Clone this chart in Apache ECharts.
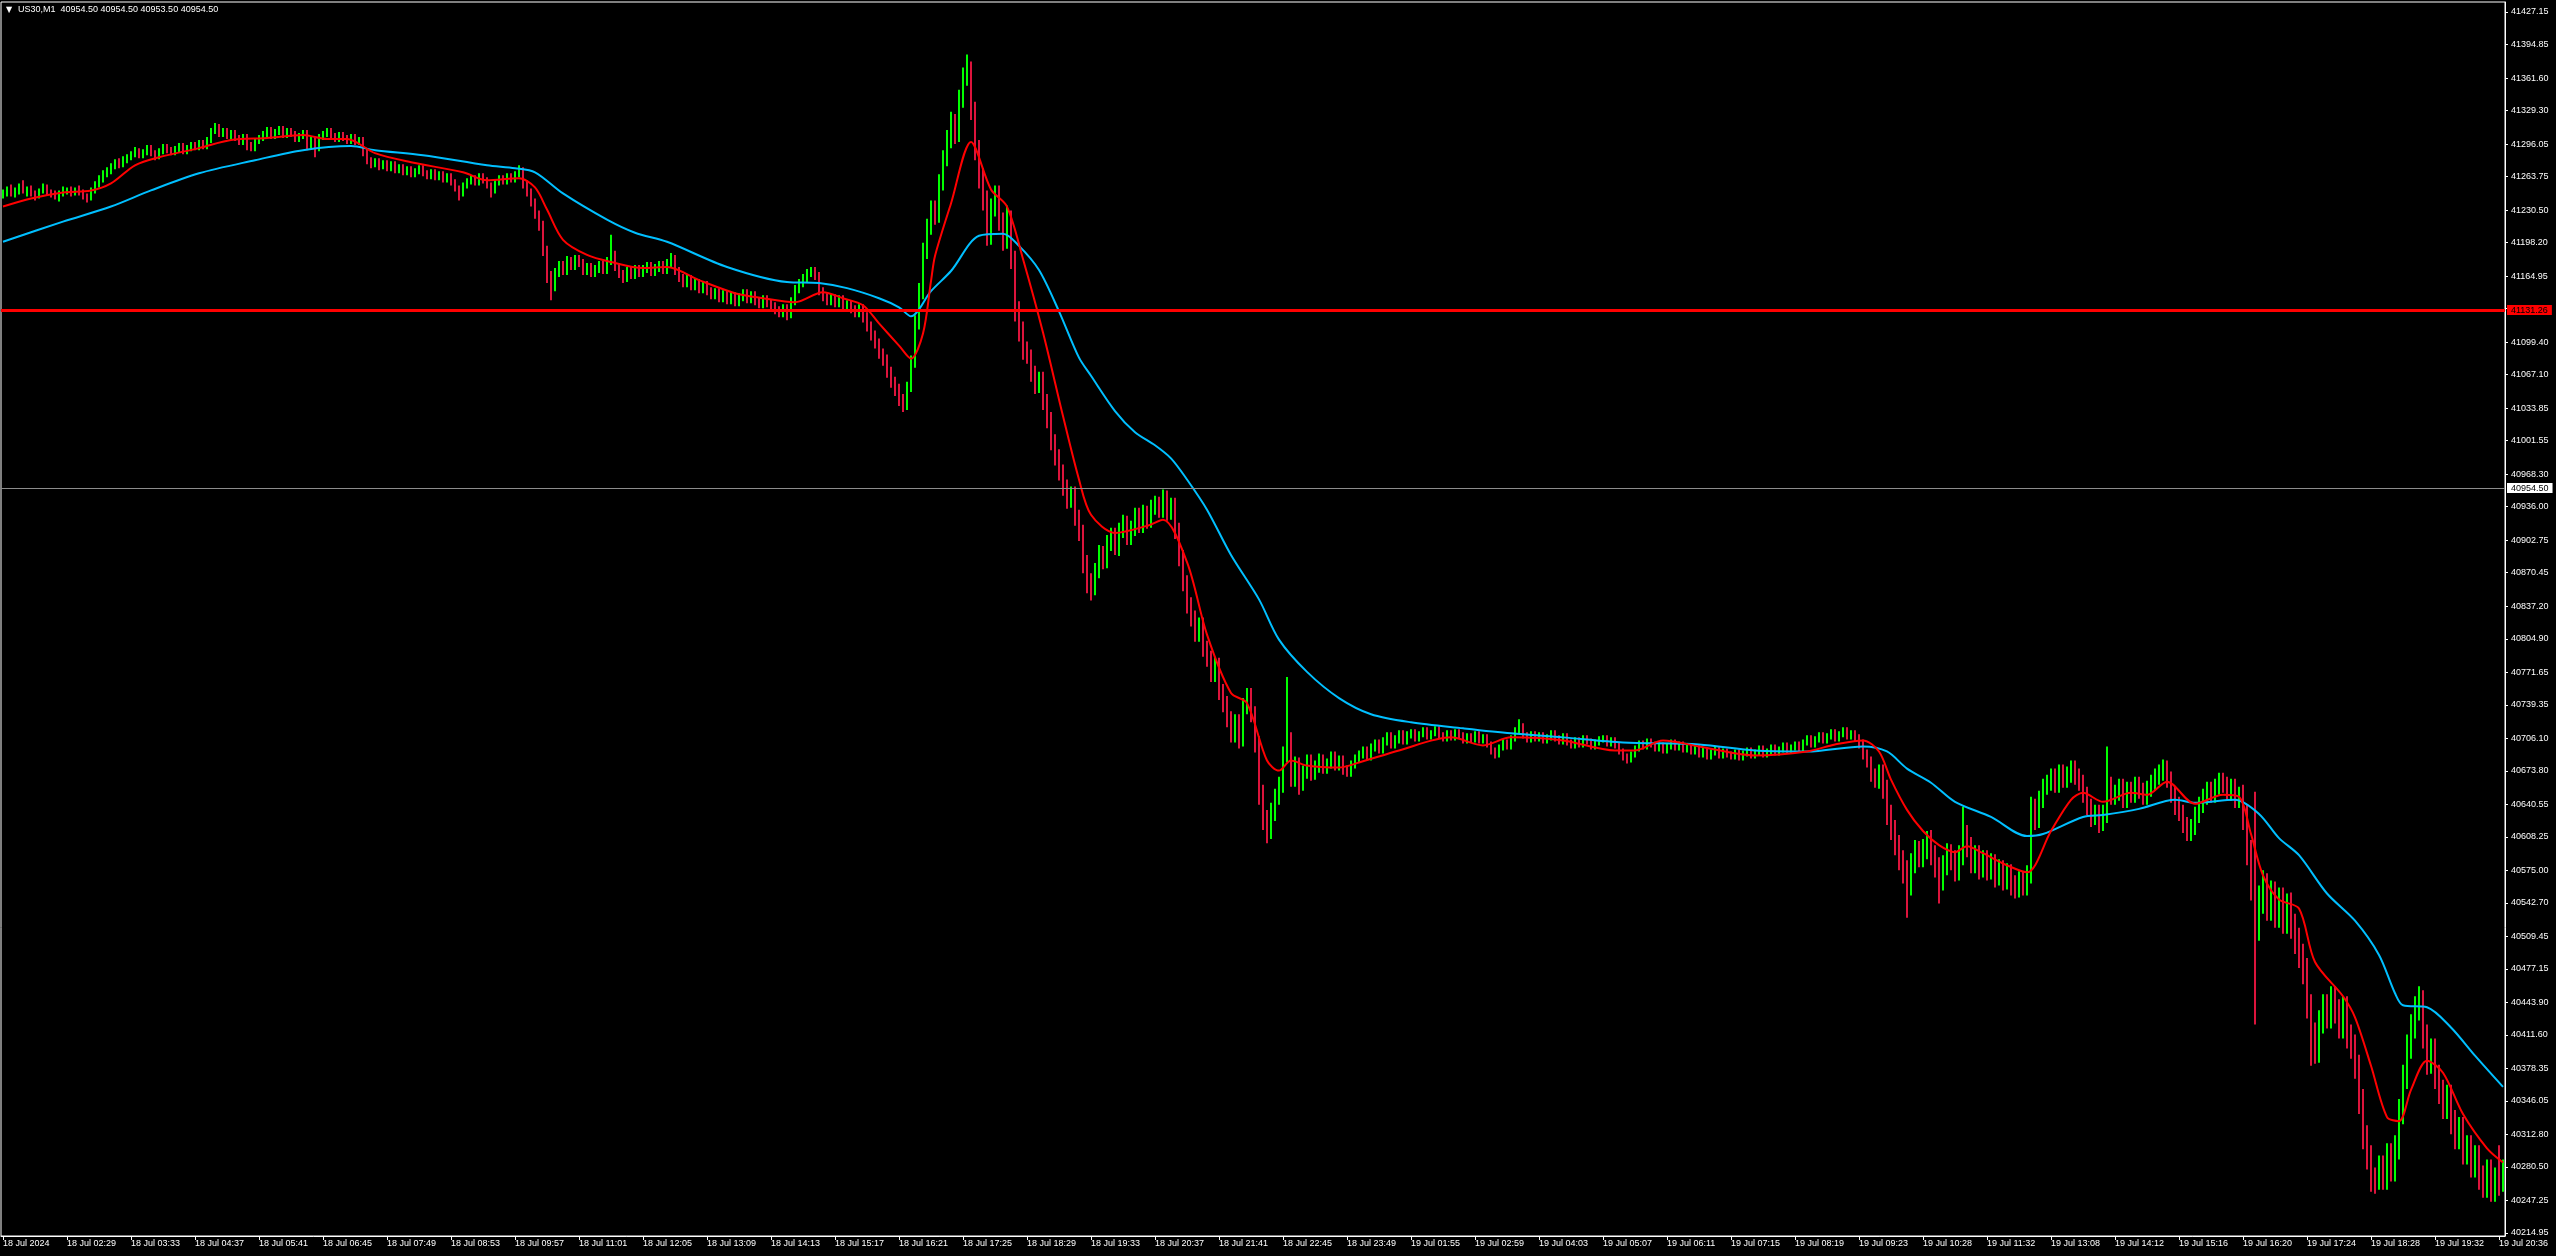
<!DOCTYPE html>
<html>
<head>
<meta charset="utf-8">
<script src="https://cdn.jsdelivr.net/npm/echarts/dist/echarts.min.js"></script>
<style>
html,body{margin:0;padding:0;background:#000;}
#chart{width:2556px;height:1256px;}
</style>
</head>
<body>
<div id="chart"></div>
<script>
// ---- data: 4-minute candles ----
const open = [
41245,41248,41252,41246,41250,41255,41249,41251,41247,41244,41250,41253,41249,41246,41243,41247,
41249,41250,41247,41251,41248,41244,41243,41250,41256,41262,41266,41270,41274,41278,41276,41280,
41283,41286,41290,41285,41288,41292,41287,41284,41289,41293,41290,41288,41291,41294,41289,41292,
41295,41293,41297,41294,41300,41309,41313,41306,41309,41304,41307,41302,41298,41303,41295,41292,
41299,41302,41306,41310,41304,41308,41311,41305,41309,41306,41301,41304,41307,41296,41300,41292,
41303,41306,41309,41304,41301,41305,41302,41299,41303,41298,41300,41288,41280,41276,41279,41274,
41277,41272,41276,41270,41273,41268,41271,41266,41269,41272,41267,41264,41268,41263,41266,41261,
41264,41258,41252,41247,41255,41259,41262,41258,41264,41260,41255,41250,41258,41262,41259,41264,
41261,41266,41270,41256,41248,41238,41226,41215,41190,41165,41155,41168,41176,41170,41180,41175,
41182,41178,41170,41174,41168,41172,41176,41171,41180,41186,41174,41167,41163,41170,41166,41172,
41168,41172,41175,41169,41173,41176,41171,41178,41182,41170,41163,41158,41162,41155,41158,41152,
41156,41150,41146,41149,41143,41147,41141,41145,41139,41144,41148,41142,41146,41140,41137,41142,
41138,41135,41131,41128,41133,41127,41140,41152,41158,41163,41168,41170,41165,41150,41144,41140,
41143,41138,41142,41134,41137,41132,41128,41133,41124,41115,41106,41098,41088,41082,41070,41060,
41052,41042,41036,41055,41080,41120,41150,41190,41215,41232,41225,41258,41282,41300,41318,41308,
41340,41362,41370,41328,41290,41262,41240,41205,41232,41245,41218,41200,41222,41180,41130,41110,
41092,41085,41068,41056,41062,41040,41022,41000,40985,40970,40955,40942,40948,40925,40910,40880,
40862,40855,40872,40890,40882,40900,40908,40895,40912,40920,40905,40915,40928,40918,40930,40922,
40935,40940,40932,40945,40930,40938,40912,40885,40860,40838,40825,40810,40818,40795,40785,40770,
40778,40752,40740,40725,40710,40722,40705,40738,40748,40730,40700,40650,40625,40615,40632,40648,
40660,40690,40705,40665,40680,40660,40672,40684,40670,40678,40685,40676,40681,40688,40679,40684,
40675,40672,40680,40686,40690,40694,40688,40697,40701,40695,40703,40708,40700,40705,40710,40704,
40709,40712,40706,40710,40714,40708,40711,40715,40709,40706,40711,40707,40712,40709,40704,40708,
40705,40710,40704,40707,40700,40694,40690,40697,40702,40698,40706,40714,40718,40709,40705,40710,
40706,40709,40704,40707,40711,40706,40703,40708,40702,40699,40704,40700,40706,40703,40698,40702,
40705,40706,40701,40704,40699,40693,40688,40685,40690,40696,40701,40698,40703,40700,40696,40699,
40694,40698,40702,40697,40700,40695,40698,40693,40697,40690,40694,40688,40692,40695,40689,40693,
40690,40688,40692,40687,40691,40694,40689,40692,40696,40690,40693,40697,40692,40695,40699,40694,
40697,40700,40696,40702,40706,40700,40705,40709,40704,40708,40712,40706,40710,40714,40708,40711,
40706,40700,40690,40682,40670,40664,40672,40655,40630,40615,40600,40585,40575,40560,40582,40595,
40588,40596,40605,40590,40578,40565,40580,40592,40585,40575,40590,40610,40598,40582,40590,40578,
40585,40575,40582,40568,40576,40565,40572,40560,40555,40565,40558,40570,40638,40625,40645,40658,
40662,40668,40660,40672,40665,40670,40676,40668,40662,40650,40638,40628,40632,40622,40630,40660,
40648,40652,40658,40645,40655,40650,40660,40654,40648,40656,40662,40668,40672,40678,40665,40650,
40640,40632,40620,40612,40618,40630,40640,40648,40655,40650,40658,40664,40660,40652,40658,40645,
40650,40625,40590,40560,40520,40545,40560,40538,40552,40530,40545,40525,40540,40520,40505,40490,
40475,40440,40410,40395,40425,40440,40430,40448,40435,40420,40438,40410,40400,40380,40345,40310,
40290,40268,40262,40280,40270,40292,40278,40300,40335,40370,40400,40420,40438,40445,40410,40385,
40395,40370,40355,40340,40350,40325,40310,40318,40295,40300,40282,40290,40270,40262,40275,40258,
40268,40262
];
const high = [
41251,41254,41256,41253,41257,41260,41254,41255,41250,41252,41257,41256,41251,41250,41250,41254,
41253,41254,41253,41255,41251,41247,41253,41259,41265,41270,41273,41277,41281,41282,41284,41286,
41289,41293,41292,41291,41295,41295,41290,41292,41296,41296,41293,41294,41297,41297,41295,41298,
41298,41300,41300,41303,41312,41317,41316,41312,41312,41310,41310,41305,41306,41306,41298,41302,
41305,41309,41313,41313,41311,41314,41314,41312,41312,41309,41307,41310,41310,41303,41303,41306,
41309,41312,41312,41307,41308,41308,41305,41306,41306,41303,41303,41291,41283,41282,41282,41280,
41280,41279,41279,41276,41276,41274,41274,41272,41275,41275,41270,41271,41271,41269,41269,41267,
41267,41261,41255,41258,41262,41265,41265,41267,41267,41263,41258,41261,41265,41265,41267,41267,
41269,41275,41273,41260,41252,41242,41230,41220,41195,41170,41173,41180,41180,41185,41184,41186,
41186,41182,41178,41178,41176,41180,41180,41184,41206,41190,41178,41171,41174,41174,41176,41176,
41176,41179,41179,41177,41180,41180,41182,41188,41186,41174,41167,41166,41166,41162,41162,41160,
41160,41154,41153,41153,41151,41151,41149,41149,41148,41152,41152,41150,41150,41144,41146,41146,
41142,41139,41135,41137,41137,41144,41156,41162,41167,41172,41174,41174,41169,41154,41148,41147,
41147,41146,41146,41141,41141,41136,41137,41137,41129,41120,41111,41103,41093,41087,41075,41065,
41058,41048,41060,41086,41126,41158,41198,41222,41240,41240,41266,41290,41310,41328,41326,41350,
41372,41385,41378,41338,41300,41272,41250,41242,41255,41255,41228,41235,41230,41190,41140,41120,
41100,41092,41076,41070,41070,41048,41030,41008,40993,40978,40963,40956,40956,40933,40918,40888,
40870,40880,40898,40897,40908,40915,40915,40920,40928,40927,40922,40935,40935,40938,40937,40943,
40947,40946,40953,40952,40945,40945,40920,40893,40868,40846,40833,40826,40826,40803,40793,40786,
40786,40760,40748,40733,40730,40730,40746,40756,40756,40738,40708,40660,40635,40642,40656,40668,
40698,40767,40712,40688,40687,40679,40690,40690,40684,40691,40690,40686,40693,40693,40689,40689,
40679,40684,40690,40694,40698,40698,40701,40705,40705,40707,40712,40712,40709,40714,40714,40713,
40715,40715,40713,40717,40717,40714,40718,40718,40712,40714,40714,40715,40715,40712,40711,40711,
40713,40713,40710,40710,40703,40697,40700,40705,40705,40709,40717,40725,40721,40712,40713,40713,
40712,40712,40710,40714,40714,40709,40711,40711,40705,40707,40707,40709,40709,40706,40705,40708,
40709,40709,40707,40707,40702,40696,40691,40693,40699,40704,40704,40706,40706,40703,40702,40702,
40701,40705,40705,40703,40703,40701,40701,40700,40700,40697,40697,40695,40698,40698,40696,40696,
40693,40695,40695,40694,40697,40697,40695,40699,40699,40696,40700,40700,40698,40702,40702,40700,
40703,40703,40705,40709,40709,40708,40712,40712,40711,40715,40715,40713,40717,40717,40714,40714,
40710,40705,40695,40688,40676,40680,40680,40665,40640,40625,40610,40595,40585,40592,40605,40604,
40606,40614,40615,40600,40588,40590,40602,40601,40595,40600,40638,40620,40608,40600,40600,40595,
40595,40592,40591,40586,40585,40582,40581,40570,40574,40574,40580,40648,40646,40654,40666,40670,
40676,40676,40680,40680,40678,40684,40684,40676,40670,40658,40646,40640,40640,40640,40698,40668,
40660,40666,40666,40663,40663,40668,40668,40662,40664,40670,40676,40680,40685,40684,40673,40658,
40648,40640,40628,40626,40638,40648,40656,40663,40663,40666,40672,40672,40668,40666,40666,40658,
40660,40640,40605,40653,40560,40575,40572,40565,40564,40558,40558,40552,40553,40532,40518,40502,
40488,40452,40424,40436,40452,40452,40460,40460,40447,40450,40450,40422,40412,40392,40358,40322,
40302,40280,40292,40292,40304,40304,40312,40348,40382,40412,40432,40450,40460,40456,40422,40408,
40408,40382,40367,40362,40362,40337,40330,40330,40312,40312,40302,40302,40282,40288,40288,40280,
40302,40288
];
const low = [
41242,41244,41244,41243,41246,41247,41244,41244,41240,41242,41247,41245,41243,41241,41239,41244,
41246,41244,41245,41245,41241,41238,41240,41247,41253,41258,41263,41266,41271,41272,41273,41277,
41280,41283,41282,41282,41285,41284,41280,41281,41286,41287,41285,41285,41288,41286,41286,41289,
41290,41290,41291,41291,41297,41306,41303,41303,41301,41301,41299,41295,41295,41290,41289,41289,
41296,41299,41303,41301,41301,41305,41302,41302,41303,41298,41298,41301,41290,41292,41283,41289,
41300,41303,41301,41298,41298,41299,41296,41296,41295,41295,41284,41276,41272,41273,41270,41271,
41269,41269,41267,41267,41265,41265,41263,41263,41266,41264,41261,41261,41260,41260,41258,41258,
41255,41249,41240,41244,41252,41256,41255,41255,41257,41252,41243,41247,41255,41256,41256,41258,
41258,41263,41252,41244,41234,41222,41210,41185,41158,41141,41150,41164,41166,41166,41171,41171,
41174,41166,41166,41164,41164,41168,41167,41167,41176,41170,41163,41158,41159,41162,41162,41164,
41164,41168,41165,41165,41169,41167,41167,41174,41166,41159,41154,41154,41151,41151,41148,41148,
41146,41142,41142,41139,41139,41137,41137,41135,41135,41140,41138,41138,41136,41133,41133,41134,
41131,41127,41124,41124,41121,41123,41136,41148,41154,41159,41164,41161,41146,41140,41136,41136,
41134,41134,41130,41130,41128,41124,41124,41119,41110,41101,41093,41083,41076,41064,41054,41046,
41036,41030,41032,41050,41074,41112,41142,41182,41206,41216,41218,41250,41274,41292,41296,41298,
41332,41354,41320,41280,41252,41230,41195,41196,41224,41210,41190,41192,41172,41120,41100,41082,
41078,41060,41048,41049,41032,41014,40992,40977,40962,40947,40934,40935,40917,40902,40870,40850,
40843,40848,40865,40874,40875,40892,40888,40887,40905,40898,40898,40907,40910,40910,40914,40915,
40928,40925,40925,40922,40923,40904,40877,40852,40830,40817,40802,40802,40787,40777,40762,40762,
40744,40732,40717,40702,40702,40696,40698,40730,40722,40692,40640,40615,40602,40606,40624,40640,
40652,40682,40658,40658,40650,40654,40666,40664,40665,40672,40671,40671,40676,40674,40674,40670,
40668,40668,40676,40682,40686,40684,40684,40693,40691,40691,40699,40696,40696,40701,40700,40700,
40706,40703,40703,40707,40705,40705,40708,40706,40703,40703,40704,40704,40706,40701,40701,40702,
40702,40701,40701,40697,40690,40686,40687,40694,40695,40695,40703,40711,40706,40702,40702,40703,
40703,40701,40701,40704,40703,40700,40700,40699,40696,40696,40697,40697,40700,40695,40695,40699,
40702,40698,40698,40696,40690,40684,40681,40682,40687,40693,40695,40695,40697,40693,40693,40691,
40691,40695,40694,40694,40692,40692,40690,40690,40687,40687,40685,40685,40689,40686,40686,40687,
40685,40685,40684,40684,40688,40686,40686,40689,40687,40687,40690,40689,40689,40692,40691,40691,
40694,40693,40693,40699,40697,40697,40702,40701,40701,40705,40703,40703,40707,40705,40705,40703,
40696,40685,40677,40663,40657,40656,40646,40620,40605,40590,40575,40562,40528,40550,40572,40578,
40578,40586,40580,40568,40542,40555,40570,40575,40564,40565,40580,40588,40572,40572,40566,40568,
40565,40566,40558,40560,40555,40556,40550,40547,40548,40550,40550,40562,40615,40617,40637,40650,
40654,40652,40652,40657,40657,40662,40660,40654,40642,40630,40618,40620,40612,40614,40622,40640,
40640,40644,40637,40637,40642,40642,40646,40640,40640,40648,40654,40660,40664,40657,40642,40630,
40624,40612,40604,40604,40610,40622,40632,40640,40642,40642,40650,40652,40644,40644,40637,40637,
40615,40580,40545,40422,40505,40532,40525,40525,40518,40518,40512,40512,40507,40492,40478,40462,
40428,40381,40383,40384,40413,40418,40418,40423,40408,40408,40398,40388,40368,40333,40298,40278,
40256,40254,40258,40258,40258,40266,40266,40288,40323,40358,40388,40408,40426,40398,40372,40373,
40358,40343,40328,40328,40313,40298,40298,40283,40283,40270,40270,40258,40250,40250,40246,40246,
40252,40256
];
const close = [
41248,41252,41246,41250,41255,41249,41251,41247,41244,41250,41253,41249,41246,41243,41247,41249,
41250,41247,41251,41248,41244,41243,41250,41256,41262,41266,41270,41274,41278,41276,41280,41283,
41286,41290,41285,41288,41292,41287,41284,41289,41293,41290,41288,41291,41294,41289,41292,41295,
41293,41297,41294,41300,41309,41313,41306,41309,41304,41307,41302,41298,41303,41295,41292,41299,
41302,41306,41310,41304,41308,41311,41305,41309,41306,41301,41304,41307,41296,41300,41292,41303,
41306,41309,41304,41301,41305,41302,41299,41303,41298,41300,41288,41280,41276,41279,41274,41277,
41272,41276,41270,41273,41268,41271,41266,41269,41272,41267,41264,41268,41263,41266,41261,41264,
41258,41252,41247,41255,41259,41262,41258,41264,41260,41255,41250,41258,41262,41259,41264,41261,
41266,41270,41256,41248,41238,41226,41215,41190,41165,41155,41168,41176,41170,41180,41175,41182,
41178,41170,41174,41168,41172,41176,41171,41180,41186,41174,41167,41163,41170,41166,41172,41168,
41172,41175,41169,41173,41176,41171,41178,41182,41170,41163,41158,41162,41155,41158,41152,41156,
41150,41146,41149,41143,41147,41141,41145,41139,41144,41148,41142,41146,41140,41137,41142,41138,
41135,41131,41128,41133,41127,41140,41152,41158,41163,41168,41170,41165,41150,41144,41140,41143,
41138,41142,41134,41137,41132,41128,41133,41124,41115,41106,41098,41088,41082,41070,41060,41052,
41042,41036,41055,41080,41120,41150,41190,41215,41232,41225,41258,41282,41300,41318,41308,41340,
41362,41370,41328,41290,41262,41240,41205,41232,41245,41218,41200,41222,41180,41130,41110,41092,
41085,41068,41056,41062,41040,41022,41000,40985,40970,40955,40942,40948,40925,40910,40880,40862,
40855,40872,40890,40882,40900,40908,40895,40912,40920,40905,40915,40928,40918,40930,40922,40935,
40940,40932,40945,40930,40938,40912,40885,40860,40838,40825,40810,40818,40795,40785,40770,40778,
40752,40740,40725,40710,40722,40705,40738,40748,40730,40700,40650,40625,40615,40632,40648,40660,
40690,40705,40665,40680,40660,40672,40684,40670,40678,40685,40676,40681,40688,40679,40684,40675,
40672,40680,40686,40690,40694,40688,40697,40701,40695,40703,40708,40700,40705,40710,40704,40709,
40712,40706,40710,40714,40708,40711,40715,40709,40706,40711,40707,40712,40709,40704,40708,40705,
40710,40704,40707,40700,40694,40690,40697,40702,40698,40706,40714,40718,40709,40705,40710,40706,
40709,40704,40707,40711,40706,40703,40708,40702,40699,40704,40700,40706,40703,40698,40702,40705,
40706,40701,40704,40699,40693,40688,40685,40690,40696,40701,40698,40703,40700,40696,40699,40694,
40698,40702,40697,40700,40695,40698,40693,40697,40690,40694,40688,40692,40695,40689,40693,40690,
40688,40692,40687,40691,40694,40689,40692,40696,40690,40693,40697,40692,40695,40699,40694,40697,
40700,40696,40702,40706,40700,40705,40709,40704,40708,40712,40706,40710,40714,40708,40711,40706,
40700,40690,40682,40670,40664,40672,40655,40630,40615,40600,40585,40575,40560,40582,40595,40588,
40596,40605,40590,40578,40565,40580,40592,40585,40575,40590,40610,40598,40582,40590,40578,40585,
40575,40582,40568,40576,40565,40572,40560,40555,40565,40558,40570,40638,40625,40645,40658,40662,
40668,40660,40672,40665,40670,40676,40668,40662,40650,40638,40628,40632,40622,40630,40660,40648,
40652,40658,40645,40655,40650,40660,40654,40648,40656,40662,40668,40672,40678,40665,40650,40640,
40632,40620,40612,40618,40630,40640,40648,40655,40650,40658,40664,40660,40652,40658,40645,40650,
40625,40590,40560,40520,40545,40560,40538,40552,40530,40545,40525,40540,40520,40505,40490,40475,
40440,40410,40395,40425,40440,40430,40448,40435,40420,40438,40410,40400,40380,40345,40310,40290,
40268,40262,40280,40270,40292,40278,40300,40335,40370,40400,40420,40438,40445,40410,40385,40395,
40370,40355,40340,40350,40325,40310,40318,40295,40300,40282,40290,40270,40262,40275,40258,40268,
40262,40275
];

// fast (red) moving average: candle index / value
const fastMaIdx = [0,7,15,22,27,33,39,49,57,66,75,81,86,93,102,115,121,129,133,136,140,146,152,160,166,174,183,190,198,205,210,215,219,224,227,230,232,233,237,242,247,251,255,260,265,269,272,278,286,290,296,301,307,311,316,319,322,326,334,339,349,362,370,377,390,403,408,415,424,438,451,458,465,469,472,476,480,484,488,491,495,501,506,512,517,520,525,532,536,541,548,555,559,562,565,569,574,578,585,588,592,596,599,602,606,610,615,621,625];
const fastMaVal = [41234,41242,41248,41250,41257,41275,41283,41292,41300,41302,41305,41301,41301,41287,41278,41268,41260,41262,41253,41231,41201,41186,41179,41173,41174,41161,41148,41143,41139,41149,41143,41136,41118,41096,41083,41108,41160,41185,41237,41298,41251,41234,41182,41109,41026,40963,40928,40910,40917,40923,40881,40809,40751,40741,40684,40674,40684,40679,40677,40682,40694,40707,40699,40707,40704,40694,40694,40704,40698,40689,40693,40700,40704,40693,40665,40635,40614,40600,40593,40599,40592,40580,40573,40614,40645,40652,40643,40652,40650,40663,40641,40650,40648,40611,40570,40546,40537,40484,40450,40429,40381,40330,40326,40357,40386,40374,40333,40299,40285];

// slow (blue) moving average
const slowMaIdx = [0,15,27,37,49,63,75,87,93,105,121,128,133,140,151,158,166,181,196,204,211,219,224,227,232,237,244,250,254,259,264,269,272,278,283,288,292,296,301,307,314,319,326,334,342,352,365,377,390,405,424,438,451,465,471,476,482,488,497,506,510,520,525,534,543,548,558,564,569,574,581,588,594,598,600,606,612,618,625];
const slowMaVal = [41199,41219,41234,41250,41267,41280,41290,41294,41290,41285,41275,41272,41268,41247,41221,41208,41199,41174,41159,41158,41153,41143,41134,41125,41150,41170,41205,41207,41195,41171,41130,41084,41066,41031,41010,40997,40984,40963,40933,40888,40844,40804,40772,40746,40730,40722,40716,40711,40707,40702,40700,40694,40693,40698,40693,40676,40662,40643,40628,40609,40611,40628,40630,40636,40645,40642,40645,40631,40607,40590,40552,40525,40491,40453,40441,40439,40419,40391,40360];

const xTickLabels = ['18 Jul 2024','18 Jul 02:29','18 Jul 03:33','18 Jul 04:37','18 Jul 05:41','18 Jul 06:45','18 Jul 07:49','18 Jul 08:53','18 Jul 09:57','18 Jul 11:01','18 Jul 12:05','18 Jul 13:09','18 Jul 14:13','18 Jul 15:17','18 Jul 16:21','18 Jul 17:25','18 Jul 18:29','18 Jul 19:33','18 Jul 20:37','18 Jul 21:41','18 Jul 22:45','18 Jul 23:49','19 Jul 01:55','19 Jul 02:59','19 Jul 04:03','19 Jul 05:07','19 Jul 06:11','19 Jul 07:15','19 Jul 08:19','19 Jul 09:23','19 Jul 10:28','19 Jul 11:32','19 Jul 13:08','19 Jul 14:12','19 Jul 15:16','19 Jul 16:20','19 Jul 17:24','19 Jul 18:28','19 Jul 19:32','19 Jul 20:36'];

const yTickValues = [40214.95,40247.25,40280.50,40312.80,40346.05,40378.35,40411.60,40443.90,40477.15,40509.45,40542.70,40575.00,40608.25,40640.55,40673.80,40706.10,40739.35,40771.65,40804.90,40837.20,40870.45,40902.75,40936.00,40968.30,41001.55,41033.85,41067.10,41099.40,41132.65,41164.95,41198.20,41230.50,41263.75,41296.05,41329.30,41361.60,41394.85,41427.15];
const yLabelValues = yTickValues.filter(v => v !== 41132.65); // hidden under the red level label

const levelLine = 41131.26;
const bidLine = 40954.50;
const titleText = 'US30,M1  40954.50 40954.50 40953.50 40954.50';
const yMin = 40211.96, yMax = 41437.08;

// ---- font choice: condensed face if installed, otherwise smaller regular face ----
function fontInstalled(name) {
  const ctx = document.createElement('canvas').getContext('2d');
  const probe = '41427.15 18 Jul 02:29 mmmWWW';
  ctx.font = '40px monospace';
  const base = ctx.measureText(probe).width;
  ctx.font = "40px '" + name + "', monospace";
  return Math.abs(ctx.measureText(probe).width - base) > 0.5;
}
const NARROW = fontInstalled('Liberation Sans Narrow');
const FONT = NARROW ? "'Liberation Sans Narrow','Liberation Sans',sans-serif" : "'Liberation Sans',Arial,sans-serif";
const FS = NARROW ? 11 : 9;

// ---- chart ----
const cats = close.map((_, i) => String(i));
const candles = close.map((c, i) => [open[i], c, low[i], high[i]]);
const fastMa = fastMaIdx.map((k, i) => [k, fastMaVal[i]]);
const slowMa = slowMaIdx.map((k, i) => [k, slowMaVal[i]]);

const chart = echarts.init(document.getElementById('chart'), null, {renderer: 'canvas'});
chart.setOption({
  backgroundColor: '#000',
  animation: false,
  grid: {left: 1, top: 2, width: 2504, height: 1234, show: true, borderColor: '#fff', borderWidth: 1, backgroundColor: '#000'},
  graphic: [
    {type: 'text', left: 6, top: 6, style: {text: '▼', fill: '#fff', font: '8px DejaVu Sans'}},
    {type: 'text', left: 18, top: NARROW ? 4 : 5, style: {text: titleText, fill: '#fff', font: FS + 'px ' + FONT}}
  ],
  xAxis: {
    type: 'category', data: cats, boundaryGap: true,
    axisLine: {show: true, lineStyle: {color: '#fff', width: 1}},
    axisTick: {show: true, interval: 15, alignWithLabel: true, length: 4, lineStyle: {color: '#fff'}},
    axisLabel: {
      interval: 15, color: '#fff', fontSize: FS, fontFamily: FONT, align: 'left', margin: 3,
      formatter: (v, idx) => (idx % 16 === 0 ? (xTickLabels[idx / 16] || '') : '')
    },
    splitLine: {show: false}
  },
  yAxis: {
    type: 'value', position: 'right', min: yMin, max: yMax, scale: true,
    axisLine: {show: true, lineStyle: {color: '#fff', width: 1}},
    axisTick: {show: true, length: 3, customValues: yTickValues, lineStyle: {color: '#fff'}},
    axisLabel: {color: '#fff', fontSize: FS, fontFamily: FONT, margin: 6, customValues: yLabelValues,
      formatter: v => Number(v).toFixed(2)},
    splitLine: {show: false}
  },
  series: [
    {
      type: 'candlestick', data: candles, barWidth: 2, z: 2,
      itemStyle: {color: '#00FF00', color0: '#DC143C', borderColor: '#00FF00', borderColor0: '#DC143C', borderWidth: 2}
    },
    {
      type: 'line', data: slowMa, symbol: 'none', smooth: 0.3, z: 3,
      lineStyle: {color: '#00BFFF', width: 2}
    },
    {
      type: 'line', data: fastMa, symbol: 'none', smooth: 0.3, z: 4,
      lineStyle: {color: '#FF0000', width: 2},
      markLine: {
        silent: true, symbol: ['none', 'none'], z: 6, animation: false,
        data: [
          {yAxis: levelLine, lineStyle: {color: '#FF0000', width: 3, type: 'solid'},
           label: {show: true, position: 'end', distance: 2, formatter: levelLine.toFixed(2), color: '#000',
             backgroundColor: '#FF0000', padding: [1, 4, 0, 4], fontSize: FS, fontFamily: FONT}},
          {yAxis: bidLine, lineStyle: {color: '#8c8c8c', width: 1, type: 'solid'},
           label: {show: true, position: 'end', distance: 2, formatter: bidLine.toFixed(2), color: '#000',
             backgroundColor: '#fff', padding: [1, 4, 0, 4], fontSize: FS, fontFamily: FONT}}
        ]
      }
    }
  ]
});
</script>
</body>
</html>
